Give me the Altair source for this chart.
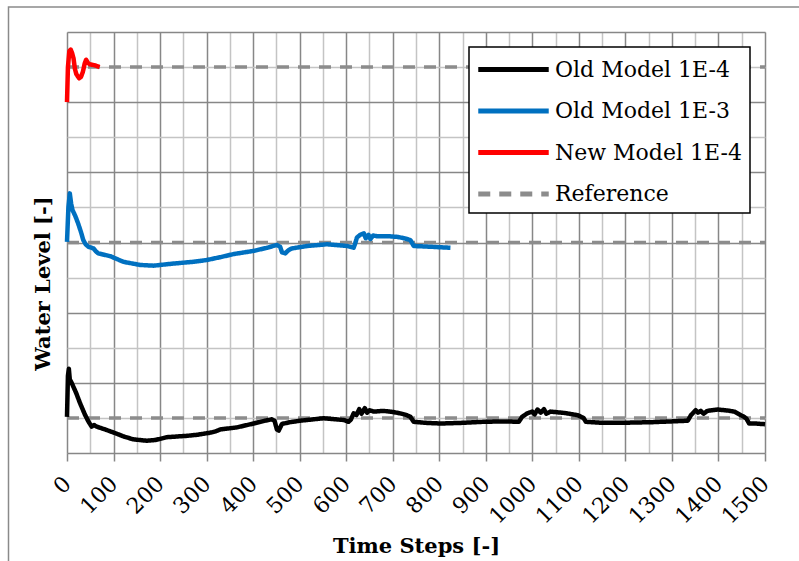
import altair as alt
import pandas as pd

# Old model, tolerance 1E-4
old4_steps = [0, 2, 4, 6, 10, 20, 28, 39, 46, 53, 58, 64, 80, 103, 120, 142, 171, 190, 214, 258,
              280, 308, 320, 329, 365, 401, 425, 440, 446, 451, 455, 462, 480, 501, 551, 595, 605,
              610, 616, 622, 628, 633, 640, 645, 650, 659, 680, 700, 716, 730, 738, 745, 770, 803,
              850, 896, 940, 971, 978, 989, 1000, 1005, 1011, 1018, 1025, 1030, 1039, 1070, 1097,
              1110, 1115, 1150, 1190, 1260, 1334, 1341, 1351, 1356, 1362, 1368, 1376, 1398, 1420,
              1434, 1455, 1460, 1466, 1480, 1500]
old4_level = [1.03, 2.2, 2.4, 2.1, 2.0, 1.7, 1.42, 1.08, 0.9, 0.75, 0.8, 0.75, 0.68, 0.57, 0.48,
              0.39, 0.35, 0.37, 0.45, 0.49, 0.52, 0.58, 0.62, 0.67, 0.73, 0.84, 0.92, 0.96, 0.92,
              0.67, 0.64, 0.83, 0.88, 0.92, 0.99, 0.94, 0.89, 0.95, 1.13, 1.08, 1.25, 1.12, 1.28,
              1.15, 1.22, 1.18, 1.2, 1.17, 1.13, 1.08, 1.03, 0.89, 0.86, 0.84, 0.86, 0.89, 0.9,
              0.89, 1.03, 1.13, 1.18, 1.1, 1.24, 1.15, 1.25, 1.12, 1.18, 1.14, 1.08, 1.0, 0.89,
              0.86, 0.86, 0.88, 0.92, 1.08, 1.22, 1.15, 1.2, 1.12, 1.2, 1.24, 1.21, 1.18, 1.03,
              0.98, 0.84, 0.84, 0.82]

# Old model, tolerance 1E-3
old3_steps = [0, 3, 6, 9, 12, 18, 24, 30, 35, 40, 46, 57, 62, 67, 80, 93, 121, 157, 186, 229, 272,
              300, 329, 358, 401, 430, 451, 458, 462, 469, 476, 483, 516, 559, 602, 616, 620, 623,
              630, 638, 642, 648, 652, 658, 666, 690, 710, 725, 738, 745, 780, 824]
old3_level = [6.02, 7.0, 7.4, 7.1, 6.92, 6.75, 6.54, 6.3, 6.07, 5.95, 5.88, 5.83, 5.75, 5.69, 5.65,
              5.61, 5.45, 5.36, 5.34, 5.4, 5.45, 5.5, 5.58, 5.67, 5.76, 5.85, 5.93, 5.88, 5.72,
              5.69, 5.78, 5.83, 5.9, 5.95, 5.9, 5.85, 6.0, 6.14, 6.22, 6.26, 6.12, 6.22, 6.1, 6.2,
              6.18, 6.18, 6.16, 6.12, 6.07, 5.9, 5.88, 5.85]

# New model, tolerance 1E-4
new4_steps = [0, 2, 5, 8, 11, 14, 17, 20, 26, 30, 34, 38, 41, 45, 49, 60, 70]
new4_level = [10.0, 11.0, 11.45, 11.5, 11.4, 11.25, 10.95, 10.8, 10.68, 10.72, 10.86, 11.1, 11.21,
              11.12, 11.08, 11.05, 11.0]

# Reference water levels for the three runs
ref_levels = [1, 6, 11]
ref_steps = [0, 1500]

series_names = ["Old Model 1E-4", "Old Model 1E-3", "New Model 1E-4", "Reference"]
series_colors = ["#000000", "#0070C0", "#FF0000", "#8C8C8C"]
series_dash = [[1, 0], [1, 0], [1, 0], [12, 9]]

rows = []
for name, xs, ys in [(series_names[0], old4_steps, old4_level),
                     (series_names[1], old3_steps, old3_level),
                     (series_names[2], new4_steps, new4_level)]:
    for i, (s, v) in enumerate(zip(xs, ys)):
        rows.append({"series": name, "run": name, "step": s, "level": v, "order": i})
runs = pd.DataFrame(rows)

ref_rows = []
for k, lvl in enumerate(ref_levels):
    for i, s in enumerate(ref_steps):
        ref_rows.append({"series": "Reference", "run": f"ref{k}", "step": s, "level": lvl, "order": i})
refs = pd.DataFrame(ref_rows)

FONT = "DejaVu Serif"
MAJOR = "#878787"
MINOR = "#c4c4c4"

x_enc = alt.X(
    "step:Q",
    scale=alt.Scale(domain=[0, 1500], nice=False),
    axis=alt.Axis(
        title="Time Steps [-]",
        values=list(range(0, 1501, 50)),
        labelExpr="datum.value % 100 === 0 ? format(datum.value, 'd') : ''",
        labelAngle=-45,
        labelAlign="right",
        labelBaseline="middle",
        labelPadding=19,
        labelFont=FONT,
        labelFontSize=22,
        labelColor="#000000",
        labelOverlap=False,
        labelFlush=False,
        tickSize=8,
        tickWidth=1.5,
        tickColor={"condition": {"test": "datum.value % 100 === 0", "value": MAJOR},
                   "value": "transparent"},
        grid=True,
        gridColor={"condition": {"test": "datum.value % 100 === 0", "value": MAJOR},
                   "value": MINOR},
        gridWidth=1.5,
        domain=False,
        titleFont=FONT,
        titleFontSize=21,
        titleFontWeight="bold",
        titleColor="#000000",
        titleBaseline="alphabetic",
        titleY=99,
    ),
)

y_enc = alt.Y(
    "level:Q",
    scale=alt.Scale(domain=[0, 12], nice=False),
    axis=alt.Axis(
        title="Water Level [-]",
        values=list(range(0, 13)),
        labels=False,
        ticks=False,
        domain=False,
        grid=True,
        gridColor={"condition": {"test": "datum.value % 2 === 0", "value": MAJOR},
                   "value": MINOR},
        gridWidth=1.5,
        titleFont=FONT,
        titleFontSize=21,
        titleFontWeight="bold",
        titleColor="#000000",
        titleAngle=-90,
        titleAlign="center",
        titleBaseline="middle",
        titleX=-24,
        titleY=251,
    ),
)

color_enc = alt.Color(
    "series:N",
    scale=alt.Scale(domain=series_names, range=series_colors),
    legend=alt.Legend(
        title=None,
        orient="none",
        legendX=402,
        legendY=15,
        fillColor="#ffffff",
        strokeColor="#000000",
        padding=8,
        # a long horizontal stroke as the legend key
        symbolType="M-3,0H3",
        symbolSize=552,
        symbolStrokeWidth=5,
        symbolOffset=22,
        labelFont=FONT,
        labelFontSize=22,
        labelColor="#000000",
        labelOffset=27,
        rowPadding=15.5,
        labelLimit=300,
    ),
)
dash_enc = alt.StrokeDash(
    "series:N",
    scale=alt.Scale(domain=series_names, range=series_dash),
    legend=None,
)

ref_layer = alt.Chart(refs).mark_line(strokeWidth=3.5).encode(
    x=x_enc, y=y_enc, color=color_enc, strokeDash=dash_enc, detail="run:N", order="order:Q"
)
run_layer = alt.Chart(runs).mark_line(strokeWidth=4.5, strokeJoin="round").encode(
    x=x_enc, y=y_enc, color=color_enc, strokeDash=dash_enc, detail="run:N", order="order:Q"
)

# thin border around the whole figure
frame = alt.Chart(pd.DataFrame({"f": [0]})).mark_rect(
    fill=None, stroke="#8a8a8a", strokeWidth=1.5
).encode(
    x=alt.value(-58.5), x2=alt.value(760), y=alt.value(-25), y2=alt.value(560)
)

chart = alt.layer(frame, ref_layer, run_layer).properties(
    width=698,
    height=421,
    autosize=alt.AutoSizeParams(type="none"),
    padding={"left": 67, "top": 32, "right": 34, "bottom": 108},
).configure_view(stroke=None).configure(background="#ffffff").configure_legend(strokeWidth=1.5)

chart.save("out.html", embed_options={"renderer": "svg", "actions": False})
